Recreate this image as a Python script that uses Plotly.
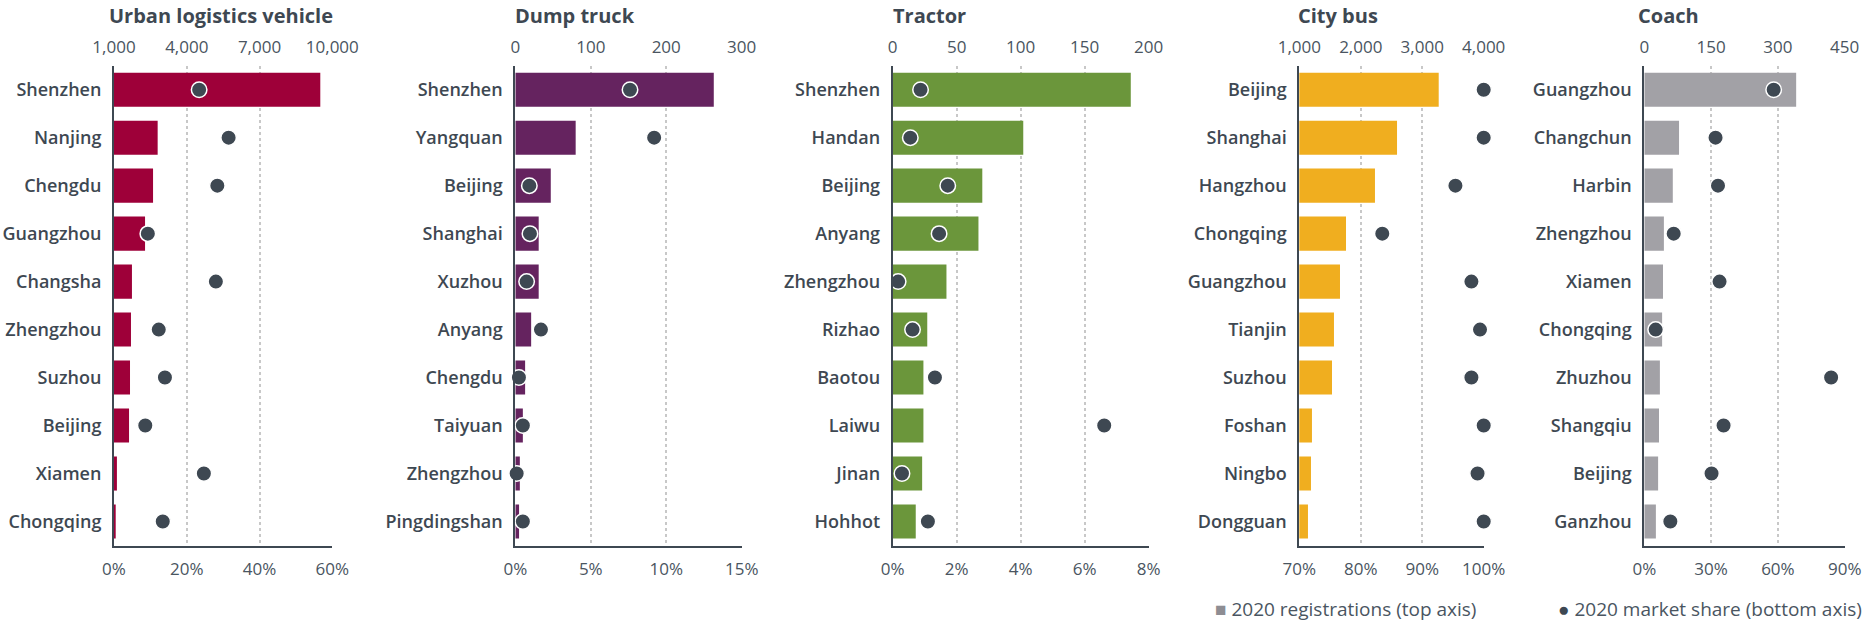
import plotly.graph_objects as go

# ---------------- data ----------------
urban_cities = ["Shenzhen", "Nanjing", "Chengdu", "Guangzhou", "Changsha",
                "Zhengzhou", "Suzhou", "Beijing", "Xiamen", "Chongqing"]
urban_reg = [9505, 2800, 2610, 2280, 1740, 1700, 1660, 1620, 1120, 1070]
urban_share = [23.4, 31.5, 28.4, 9.3, 28.0, 12.3, 14.0, 8.6, 24.7, 13.4]

dump_cities = ["Shenzhen", "Yangquan", "Beijing", "Shanghai", "Xuzhou",
               "Anyang", "Chengdu", "Taiyuan", "Zhengzhou", "Pingdingshan"]
dump_reg = [263, 80, 47, 31, 31, 21, 13, 10, 6, 5]
dump_share = [7.6, 9.2, 0.93, 0.97, 0.75, 1.7, 0.24, 0.5, 0.09, 0.5]

tractor_cities = ["Shenzhen", "Handan", "Beijing", "Anyang", "Zhengzhou",
                  "Rizhao", "Baotou", "Laiwu", "Jinan", "Hohhot"]
tractor_reg = [186, 102, 70, 67, 42, 27, 24, 24, 23, 18]
tractor_share = [0.87, 0.55, 1.72, 1.45, 0.17, 0.62, 1.32, 6.61, 0.29, 1.10]

bus_cities = ["Beijing", "Shanghai", "Hangzhou", "Chongqing", "Guangzhou",
              "Tianjin", "Suzhou", "Foshan", "Ningbo", "Dongguan"]
bus_reg = [3268, 2590, 2231, 1760, 1662, 1564, 1532, 1206, 1190, 1141]
bus_share = [100, 100, 95.4, 83.5, 98.0, 99.4, 98.0, 100, 99.0, 100]

coach_cities = ["Guangzhou", "Changchun", "Harbin", "Zhengzhou", "Xiamen",
                "Chongqing", "Zhuzhou", "Shangqiu", "Beijing", "Ganzhou"]
coach_reg = [341, 78, 64, 44, 42, 40, 35, 33, 31, 26]
coach_share = [58.1, 32.0, 33.1, 13.2, 33.8, 5.1, 83.9, 35.6, 30.2, 11.7]

titles = ["Urban logistics vehicle", "Dump truck", "Tractor", "City bus", "Coach"]
top_ticks = [[1000, 4000, 7000, 10000], [0, 100, 200, 300], [0, 50, 100, 150, 200],
             [1000, 2000, 3000, 4000], [0, 150, 300, 450]]
bottom_ticks = [[0, 20, 40, 60], [0, 5, 10, 15], [0, 2, 4, 6, 8],
                [70, 80, 90, 100], [0, 30, 60, 90]]

legend_labels = ["2020 registrations (top axis)", "2020 market share (bottom axis)"]

# ---------------- style ----------------
W, H = 1867, 624
bar_colors = ["#9E0039", "#65235F", "#6B963B", "#F0AE1F", "#A2A1A6"]
dot_color = "#3E4852"
text_color = "#3E4852"
tick_color = "#4A5561"
FONT = "Open Sans"

dom_px = [(114.0, 332.3), (515.3, 741.7), (892.7, 1148.7), (1299.3, 1483.7), (1644.3, 1844.7)]
title_x_px = [106.7, 513.0, 890.7, 1295.7, 1636.0]
y_top_px, y_bot_px = 65.7, 545.5
ydom = [1 - y_bot_px / H, 1 - y_top_px / H]

panels = [
    (urban_cities, urban_reg, urban_share),
    (dump_cities, dump_reg, dump_share),
    (tractor_cities, tractor_reg, tractor_share),
    (bus_cities, bus_reg, bus_share),
    (coach_cities, coach_reg, coach_share),
]

fig = go.Figure()
layout = dict(
    width=W, height=H, margin=dict(l=0, r=0, t=0, b=0, autoexpand=False),
    paper_bgcolor="white", plot_bgcolor="white", showlegend=False,
    bargap=0.29, font=dict(family=FONT, color=text_color),
)
annotations = []

for i, (cities, reg, share) in enumerate(panels):
    xb = 2 * i + 1
    xs = 2 * i + 2
    yi = i + 1
    xb_ref = "x" if xb == 1 else f"x{xb}"
    xs_ref = f"x{xs}"
    y_ref = "y" if yi == 1 else f"y{yi}"
    fig.add_trace(go.Bar(x=reg, y=cities, orientation="h", marker_color=bar_colors[i],
                         marker_line_width=0, xaxis=xb_ref, yaxis=y_ref,
                         name=legend_labels[0]))
    fig.add_trace(go.Scatter(x=share, y=cities, mode="markers", xaxis=xs_ref, yaxis=y_ref,
                             marker=dict(size=15.5, color=dot_color,
                                         line=dict(color="white", width=1.5)),
                             cliponaxis=False, name=legend_labels[1]))
    d = [dom_px[i][0] / W, dom_px[i][1] / W]
    tt = top_ticks[i]
    bt = bottom_ticks[i]
    layout["xaxis" if xb == 1 else f"xaxis{xb}"] = dict(
        domain=d, anchor=y_ref, side="top", range=[tt[0], tt[-1]], automargin=False,
        tickmode="array", tickvals=tt, ticktext=[f"{v:,}" for v in tt],
        showgrid=True, gridcolor="#C8C8C8", griddash="dot", gridwidth=1.5,
        zeroline=False, showline=False, ticks="", ticklabelstandoff=8,
        tickfont=dict(family=FONT, size=17, color=tick_color),
    )
    layout[f"xaxis{xs}"] = dict(
        domain=d, anchor=y_ref, overlaying=xb_ref, side="bottom", range=[bt[0], bt[-1]],
        automargin=False,
        tickmode="array", tickvals=bt, ticktext=[f"{v}%" for v in bt],
        showgrid=False, zeroline=False, showline=True, linecolor="#3E4852", linewidth=2,
        ticks="", ticklabelstandoff=7,
        tickfont=dict(family=FONT, size=17, color=tick_color),
    )
    layout["yaxis" if yi == 1 else f"yaxis{yi}"] = dict(
        domain=ydom, anchor=xb_ref, type="category", categoryorder="array",
        categoryarray=cities, range=[len(cities) - 0.5, -0.5], automargin=False,
        showline=True, linecolor="#3E4852", linewidth=2, showgrid=False, zeroline=False,
        ticks="", ticklabelstandoff=7,
        tickfont=dict(family=FONT, size=18, color=text_color, weight=600),
    )
    annotations.append(dict(
        text=titles[i], x=title_x_px[i] / W, xref="paper", xanchor="left",
        y=1 - 15 / H, yref="paper", yanchor="middle", showarrow=False,
        font=dict(family=FONT, size=20, color=text_color, weight=700),
    ))

annotations.append(dict(
    text='<span style="color:#8E8D93">■</span> ' + legend_labels[0],
    x=1213 / W, xref="paper", xanchor="left", y=1 - 609 / H, yref="paper",
    yanchor="middle", showarrow=False,
    font=dict(family=FONT, size=19, color=tick_color)))
annotations.append(dict(
    text=f'<span style="color:{dot_color}">●</span> ' + legend_labels[1],
    x=1864 / W, xref="paper", xanchor="right", y=1 - 609 / H, yref="paper",
    yanchor="middle", showarrow=False,
    font=dict(family=FONT, size=19, color=tick_color)))

layout["annotations"] = annotations
fig.update_layout(**layout)

fig.write_html("out.html", config={"displayModeBar": False},
               post_script="document.body.style.margin='0';")
